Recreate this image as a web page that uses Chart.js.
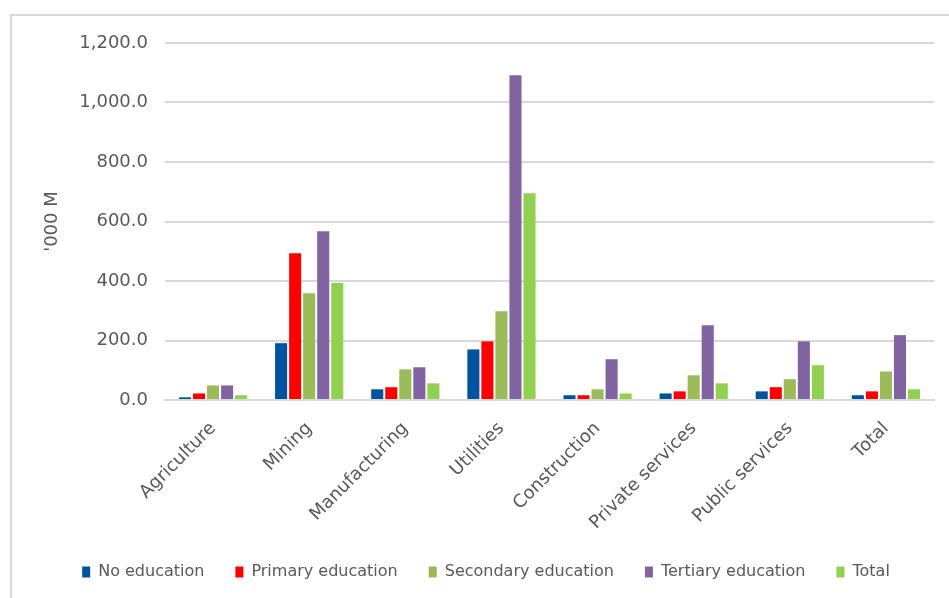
<!DOCTYPE html>
<html>
<head>
<meta charset="utf-8">
<script src="https://cdn.jsdelivr.net/npm/chart.js@4.4.1/dist/chart.umd.min.js"></script>
<style>
  html, body { margin: 0; padding: 0; background: #fff; overflow: hidden; }
  .frame { position: absolute; left: 10px; top: 14px; width: 1000px; height: 700px; border: 2px solid #d9d9d9; }
  .canva { position: absolute; left: 0; top: 0; width: 949px; height: 598px; }
</style>
</head>
<body>
<div class="frame"></div>
<div class="canva"><canvas id="chart" width="949" height="598"></canvas></div>
<script>
const sectors = ['Agriculture', 'Mining', 'Manufacturing', 'Utilities', 'Construction', 'Private services', 'Public services', 'Total'];

const noEducation = [9, 191, 36, 170, 16, 22, 29, 16];
const primaryEducation = [22, 493, 43, 197, 16, 29, 43, 29];
const secondaryEducation = [49, 359, 103, 298, 36, 83, 70, 96];
const tertiaryEducation = [49, 567, 110, 1092, 137, 251, 197, 218];
const totalValues = [16, 393, 56, 695, 22, 56, 117, 36];

const seriesNames = ['No education', 'Primary education', 'Secondary education', 'Tertiary education', 'Total'];
const seriesColors = ['#00539F', '#FF0000', '#9BBB59', '#8064A2', '#92D050'];
const yTicks = [0, 200, 400, 600, 800, 1000, 1200];

Chart.defaults.font.family = "'DejaVu Sans', sans-serif";
Chart.defaults.color = '#595959';

const seriesData = [noEducation, primaryEducation, secondaryEducation, tertiaryEducation, totalValues];

const datasets = seriesNames.map((name, i) => ({
  label: name,
  data: seriesData[i],
  backgroundColor: seriesColors[i],
  borderWidth: 0,
  categoryPercentage: 0.73,
  barPercentage: 0.86
}));

const ctx = document.getElementById('chart').getContext('2d');
new Chart(ctx, {
  type: 'bar',
  data: { labels: sectors, datasets: datasets },
  options: {
    responsive: false,
    animation: false,
    layout: { padding: { left: 38, top: 43, right: 15, bottom: 8 } },
    plugins: {
      tooltip: { enabled: false },
      legend: {
        position: 'bottom',
        labels: {
          font: { size: 16 },
          color: '#595959',
          boxWidth: 8,
          boxHeight: 11,
          padding: 31
        }
      }
    },
    scales: {
      x: {
        grid: { display: false },
        border: { display: true, color: '#d9d9d9', width: 2 },
        ticks: {
          font: { size: 18 },
          color: '#595959',
          minRotation: 45,
          maxRotation: 45,
          autoSkip: false,
          padding: 10
        },
        afterFit: (scale) => { scale.height = 133; }
      },
      y: {
        min: 0,
        max: 1200,
        border: { display: false },
        grid: { color: '#d9d9d9', lineWidth: 2, drawTicks: false },
        afterBuildTicks: (scale) => { scale.ticks = yTicks.map(v => ({ value: v })); },
        ticks: {
          font: { size: 18 },
          color: '#595959',
          padding: 17,
          callback: (v) => v.toLocaleString('en-US', { minimumFractionDigits: 1, maximumFractionDigits: 1 })
        },
        title: {
          display: true,
          text: "'000 M",
          font: { size: 18 },
          color: '#595959',
          padding: { top: 4, bottom: 4 }
        },
        afterFit: (scale) => { scale.width = 127; }
      }
    }
  }
});
</script>
</body>
</html>
